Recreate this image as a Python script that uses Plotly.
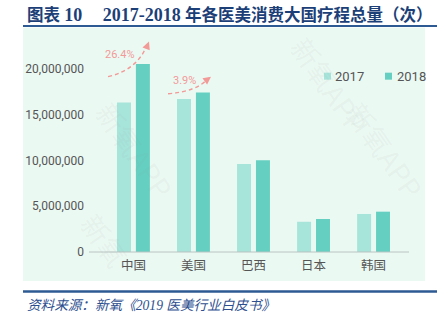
import plotly.graph_objects as go

categories = ["中国", "美国", "巴西", "日本", "韩国"]
values_2017 = [16300000, 16700000, 9600000, 3300000, 4150000]
values_2018 = [20500000, 17400000, 10000000, 3600000, 4400000]
series_names = ["2017", "2018"]
series_colors = ["#a7e4da", "#65cfc1"]
y_ticks = [0, 5000000, 10000000, 15000000, 20000000]
y_tick_labels = ["0", "5,000,000", "10,000,000", "15,000,000", "20,000,000"]
growth_labels = ["26.4%", "3.9%"]

W, H = 446, 322
L, R = 89, 409          # plot area pixel x
B, T = 252, 32.4        # plot area pixel y (bottom, top)
YMAX = 24000000


def px(x):
    return (x - L) / (R - L)


def py(y):
    return (B - y) / (B - T)


fig = go.Figure()
fig.add_trace(go.Bar(x=categories, y=values_2017, name=series_names[0],
                     marker=dict(color=series_colors[0], line=dict(width=0))))
fig.add_trace(go.Bar(x=categories, y=values_2018, name=series_names[1],
                     marker=dict(color=series_colors[1], line=dict(width=0))))

shapes = []
# mint background panel
shapes.append(dict(type="rect", xref="paper", yref="paper", layer="below",
                   x0=px(23), x1=px(425), y0=py(281), y1=py(28),
                   fillcolor="#ebf9f3", line=dict(width=0)))
# header and footer rules
shapes.append(dict(type="line", xref="paper", yref="paper",
                   x0=px(23), x1=px(437), y0=py(26.5), y1=py(26.5),
                   line=dict(color="#2e5a93", width=2)))
shapes.append(dict(type="line", xref="paper", yref="paper",
                   x0=px(23), x1=px(437), y0=py(291.5), y1=py(291.5),
                   line=dict(color="#2e5a93", width=2.5)))
# x axis line
shapes.append(dict(type="line", xref="paper", yref="paper",
                   x0=0, x1=1, y0=0, y1=0,
                   line=dict(color="#b9c4c1", width=1)))


def curve(x0, y0, cx, cy, x1, y1):
    return dict(type="path", xref="paper", yref="paper",
                path=f"M {px(x0):.4f},{py(y0):.4f} Q {px(cx):.4f},{py(cy):.4f} {px(x1):.4f},{py(y1):.4f}",
                line=dict(color="#f29a98", width=1.4, dash="4px,3px"))


shapes.append(curve(108, 77, 138, 70, 147, 45))
shapes.append(curve(168, 94, 196, 92, 208, 79))

annotations = []
# legend (drawn manually to match the compact swatch/text spacing)
legend_pos = [(324, 333), (385, 395)]
for (sx, tx), name, col in zip(legend_pos, series_names, series_colors):
    shapes.append(dict(type="rect", xref="paper", yref="paper",
                       x0=px(sx), x1=px(sx + 7), y0=py(80), y1=py(73),
                       fillcolor=col, line=dict(width=0)))
    annotations.append(dict(xref="paper", yref="paper", x=px(tx), y=py(76.5),
                            xanchor="left", yanchor="middle", showarrow=False,
                            text=name,
                            font=dict(size=13, color="#555555", family="Roboto, Arial")))
# arrowheads
annotations.append(dict(xref="paper", yref="paper", x=px(149), y=py(42),
                        ax=-2, ay=5, text="", showarrow=True, arrowhead=2,
                        arrowsize=1.2, arrowwidth=1.3, arrowcolor="#f29a98"))
annotations.append(dict(xref="paper", yref="paper", x=px(211), y=py(77),
                        ax=-4, ay=3, text="", showarrow=True, arrowhead=2,
                        arrowsize=1.2, arrowwidth=1.3, arrowcolor="#f29a98"))
annotations.append(dict(xref="paper", yref="paper", x=px(120), y=py(55),
                        xanchor="center", yanchor="middle",
                        text=growth_labels[0], showarrow=False,
                        font=dict(size=11, color="#f29a98", family="Roboto, Arial")))
annotations.append(dict(xref="paper", yref="paper", x=px(184), y=py(81),
                        xanchor="center", yanchor="middle",
                        text=growth_labels[1], showarrow=False,
                        font=dict(size=11, color="#f29a98", family="Roboto, Arial")))
# watermarks
for (wx, wy, txt) in [(135, 150, "新氧APP"), (385, 150, "新氧APP"), (330, 85, "新氧APP"),
                      (105, 240, "新氧")]:
    annotations.append(dict(xref="paper", yref="paper", x=px(wx), y=py(wy),
                            xanchor="center", yanchor="middle",
                            text=txt, showarrow=False, textangle=55,
                            font=dict(size=28, color="rgba(140,150,145,0.08)",
                                      family="Noto Sans CJK SC")))
# title
num = '<span style="font-size:18px">{}</span>'
annotations.append(dict(xref="paper", yref="paper", x=px(25), y=py(15),
                        xanchor="left", yanchor="middle", showarrow=False,
                        text="<b>图表 " + num.format("10") + "\u2003 "
                             + num.format("2017-2018") + " 年各医美消费大国疗程总量（次）</b>",
                        font=dict(size=16.5, color="#1c3f78",
                                  family="Liberation Serif, Noto Sans CJK SC")))
# source
annotations.append(dict(xref="paper", yref="paper", x=px(25), y=py(305),
                        xanchor="left", yanchor="middle", showarrow=False,
                        text="<i>资料来源：新氧《2019 医美行业白皮书》</i>",
                        font=dict(size=13.6, color="#2e4f8f",
                                  family="Liberation Serif, Noto Sans CJK SC")))

fig.update_layout(
    width=W, height=H,
    margin=dict(l=L, r=W - R, t=T, b=H - B, autoexpand=False),
    paper_bgcolor="white", plot_bgcolor="rgba(0,0,0,0)",
    barmode="group", bargap=0.37, bargroupgap=0.26,
    showlegend=False,
    xaxis=dict(range=[-0.74, 4.59], showline=False, ticks="", showgrid=False,
               automargin=False, ticklabelstandoff=4,
               tickfont=dict(size=12.5, color="#555555", family="Noto Sans CJK SC")),
    yaxis=dict(range=[0, YMAX], tickvals=y_ticks, ticktext=y_tick_labels,
               showgrid=False, zeroline=False, showline=False, ticks="",
               automargin=False, ticklabelstandoff=4,
               tickfont=dict(size=12, color="#555555", family="Roboto, Arial")),
    shapes=shapes, annotations=annotations,
)

fig.write_html("out.html")
